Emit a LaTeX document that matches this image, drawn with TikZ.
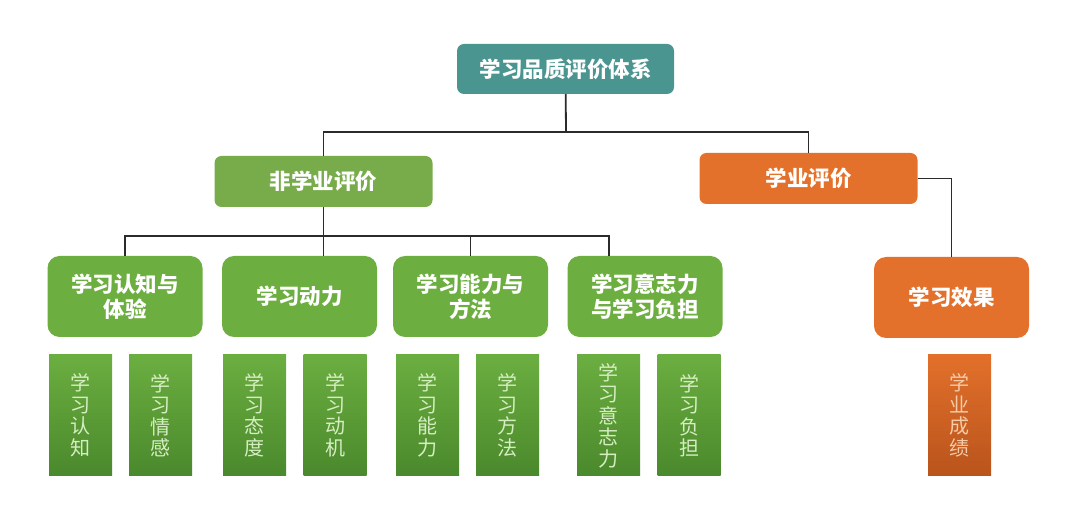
\documentclass[tikz,border=0pt]{standalone}
\usepackage{tikz}
\usepackage{xcolor}
\usepackage{fontspec}
\setmainfont{Noto Sans CJK SC}
\usetikzlibrary{positioning}

\definecolor{rootcol}{HTML}{4B9591}
\definecolor{greenmid}{HTML}{78AC4A}
\definecolor{orangemid}{HTML}{E3712B}
\definecolor{greencat}{HTML}{6DAE41}
\definecolor{greentop}{HTML}{6BAE40}
\definecolor{greenbot}{HTML}{4A892C}
\definecolor{orangetop}{HTML}{E2702B}
\definecolor{orangebot}{HTML}{B9541C}
\definecolor{greentext}{HTML}{D6EDC2}
\definecolor{orangetext}{HTML}{F6CBA8}
\definecolor{linecol}{HTML}{2B2B2B}

\begin{document}
\begin{tikzpicture}[x=1pt, y=-1pt,
every node/.style = {text=white, align=center, inner sep=0pt,
  font=\bfseries\fontsize{21.5}{25}\selectfont},
  topbox/.style = {fill=rootcol, rounded corners=7pt, minimum width=217pt, minimum height=50pt},
  midbox/.style = {fill=#1, rounded corners=7pt, minimum width=218pt, minimum height=51pt},
  catbox/.style = {fill=#1, rounded corners=12pt, minimum width=155pt, minimum height=81pt},
  leaf/.style = {top color=greentop, bottom color=greenbot, text=greentext,
    minimum width=63pt, minimum height=121pt, font=\fontsize{20}{21.5}\selectfont},
  orangeleaf/.style = {leaf, top color=orangetop, bottom color=orangebot, text=orangetext},
  wire/.style = {draw=linecol, line width=1.8pt}
]
\useasboundingbox (0,0) rectangle (1080,510);

\node[topbox] (1) at (565.5,69) {学习品质评价体系};
\node[midbox=greenmid] (2) at (323.5,181.5) {非学业评价};
\node[midbox=orangemid] (3) at (808.5,178.5) {学业评价};

\node[catbox=greencat] (4) at (125,296.5) {学习认知与\\体验};
\node[catbox=greencat] (5) at (299.5,296.5) {学习动力};
\node[catbox=greencat] (6) at (470.5,296.5) {学习能力与\\方法};
\node[catbox=greencat] (7) at (645,296.5) {学习意志力\\与学习负担};
\node[catbox=orangemid] (8) at (951.5,297.5) {学习效果};

\node[leaf] (9) at (80.5,415.5) {学\\习\\认\\知};
\node[leaf] (10) at (160.5,415.5) {学\\习\\情\\感};
\node[leaf] (11) at (254.5,415.5) {学\\习\\态\\度};
\node[leaf] (12) at (335,415.5) {学\\习\\动\\机};
\node[leaf] (13) at (427.5,415.5) {学\\习\\能\\力};
\node[leaf] (14) at (507.5,415.5) {学\\习\\方\\法};
\node[leaf] (15) at (608.5,415.5) {学\\习\\意\\志\\力};
\node[leaf] (16) at (689,415.5) {学\\习\\负\\担};
\node[orangeleaf] (17) at (959.5,415.5) {学\\业\\成\\绩};

\coordinate (a) at (566,132);
\coordinate (b) at (323.5,236);
\coordinate (c) at (609,236);

\draw[wire] (1) -- (a);
\draw[wire] (a) -| (2);
\draw[wire] (a) -| (3);
\draw[wire] (2) -- (b);
\draw[wire] (b) -| (4);
\draw[wire] (b) -- (5.north -| b);
\draw[wire] (b) -| (6);
\draw[wire] (b) -- (c) -- (7.north -| c);
\draw[wire] (3) -| (8);
% \draw[wire] (8) -- (17);

\end{tikzpicture}
\end{document}
